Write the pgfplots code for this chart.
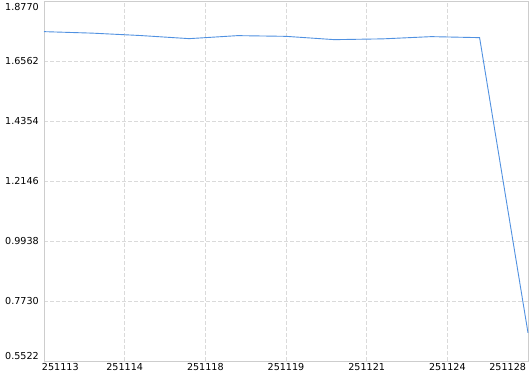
\documentclass[border=0pt]{standalone}
\usepackage{pgfplots}
\pgfplotsset{compat=1.18}
\usepackage{fontspec}
\setmainfont{DejaVu Sans}
\definecolor{linec}{RGB}{80,145,225}
\definecolor{axc}{RGB}{205,205,205}
\definecolor{gridc}{RGB}{218,218,218}
\begin{document}
\begin{tikzpicture}
\begin{axis}[
  name=ax,
  scale only axis,
  width=484pt, height=359.5pt,
  xmin=0, xmax=10,
  ymin=0.5522, ymax=1.8770,
  axis line style={axc, line width=0.8pt},
  xtick={0,1.6667,3.3333,5,6.6667,8.3333,10},
  xticklabels={\makebox[0pt][l]{\hspace{-2pt}251113},251114,251118,251119,251121,251124,\makebox[0pt][r]{251128\hspace{2pt}}},
  ytick={0.5522,0.7730,0.9938,1.2146,1.4354,1.6562,1.8770},
  yticklabels={\smash{\raisebox{1.0pt}{0.5522}},0.7730,0.9938,1.2146,1.4354,1.6562,\smash{\raisebox{-8.6pt}{1.8770}}},
  major tick length=0pt,
  tick style={draw=none},
  grid=major,
  major grid style={gridc, dash pattern=on 4pt off 2pt, line width=0.7pt},
  ticklabel style={font=\fontsize{9.6}{10}\selectfont, text=black},
  yticklabel style={inner sep=0pt, xshift=-5pt},
  xticklabel style={inner sep=0pt, yshift=-2.5pt},
  clip=false,
]
\addplot[linec, line width=0.9pt] coordinates {
(0,1.7659) (1,1.7604) (2,1.7515) (3,1.7401) (4,1.7512) (5,1.7486)
(6,1.7364) (7,1.7393) (8,1.7475) (9,1.7438) (10,0.6559)
};
\end{axis}
\pgfresetboundingbox
\path ([shift={(-44pt,-13pt)}]ax.south west) rectangle ([shift={(2pt,1.5pt)}]ax.north east);
\end{tikzpicture}
\end{document}
